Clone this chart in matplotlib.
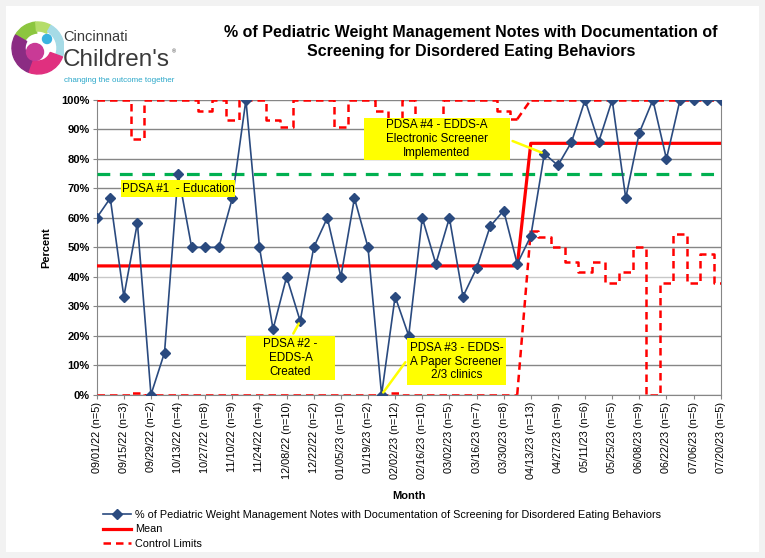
import numpy as np
from matplotlib import pyplot as plt
from matplotlib.patches import Rectangle, Wedge, Circle
from matplotlib.ticker import FuncFormatter

plt.rcParams['font.family'] = ['Liberation Sans', 'DejaVu Sans']

W, H = 765, 558

# weekly data, labels every other week
labels = ['09/01/22 (n=5)', '09/15/22 (n=3)', '09/29/22 (n=2)', '10/13/22 (n=4)',
          '10/27/22 (n=8)', '11/10/22 (n=9)', '11/24/22 (n=4)', '12/08/22 (n=10)',
          '12/22/22 (n=2)', '01/05/23 (n=10)', '01/19/23 (n=2)', '02/02/23 (n=12)',
          '02/16/23 (n=10)', '03/02/23 (n=5)', '03/16/23 (n=7)', '03/30/23 (n=8)',
          '04/13/23 (n=13)', '04/27/23 (n=9)', '05/11/23 (n=6)', '05/25/23 (n=5)',
          '06/08/23 (n=9)', '06/22/23 (n=5)', '07/06/23 (n=5)', '07/20/23 (n=5)']

pct = [60, 66.7, 33.3, 58.3, 0, 14.3, 75, 50, 50, 50, 66.7, 100, 50, 22.2, 40, 25,
       50, 60, 40, 66.7, 50, 0, 33.3, 20, 60, 44.4, 60, 33.3, 42.9, 57.1, 62.5, 44.4,
       53.8, 81.8, 77.8, 85.7, 100, 85.7, 100, 66.7, 88.9, 100, 80, 100, 100, 100, 100]

mean = [43.7] * 32 + [85.3] * 15

ucl = [100, 100, 100, 86.7, 100, 100, 100, 100, 96.3, 100, 93.3, 100, 100, 93.3, 90.8, 100,
       100, 100, 90.8, 100, 100, 96.3, 86.7, 100, 90.8, 90.8, 100, 100, 100, 100, 96.3, 93.5,
       100, 100, 100, 100, 100, 100, 100, 100, 100, 100, 100, 100, 100, 100, 100]

lcl = [0, 0, 0, 0.7, 0, 0, 0, 0, 0, 0, 0, 0, 0, 0, 0, 0,
       0, 0, 0, 0, 0, 0, 0.7, 0, 0, 0, 0, 0, 0, 0, 0, 0,
       55.7, 53.4, 50.0, 44.9, 41.7, 44.9, 37.8, 41.7, 50.0, 0, 37.8, 54.5, 37.8, 47.7, 37.8]

goal = 75
phase_break = 32

x = np.arange(len(pct))
ucl = np.array(ucl)
lcl = np.array(lcl)

fig = plt.figure(figsize=(W / 100, H / 100), dpi=100, facecolor='#f2f2f2')
fig.add_artist(Rectangle((6 / W, 6 / H), (W - 12) / W, (H - 12) / H, transform=fig.transFigure,
                         facecolor='white', edgecolor='none', zorder=-10))

ax = fig.add_axes([96.7 / W, 1 - 394.7 / H, 624 / W, 294.7 / H])
ax.set_facecolor('white')

# control limits: step per phase, diagonal at phase change
cl_style = dict(color='#ff0000', lw=1.8, dashes=(3, 2), zorder=3)
for lim in (ucl, lcl):
    ax.plot(x[:phase_break], lim[:phase_break], drawstyle='steps-mid', **cl_style)
    ax.plot(x[phase_break - 1:phase_break + 1], lim[phase_break - 1:phase_break + 1], **cl_style)
    ax.plot(x[phase_break:], lim[phase_break:], drawstyle='steps-mid', **cl_style)

ax.plot(x, mean, color='#ff0000', lw=2.3, zorder=4)
ax.axhline(goal, color='#00b050', lw=2.3, dashes=(4, 3), zorder=3)
ax.plot(x, pct, color='#2a4a7f', lw=1.2, marker='D', markersize=5, zorder=5)

ax.set_xlim(0, len(pct) - 1)
ax.set_ylim(0, 100)
ax.set_yticks(np.arange(0, 101, 10))
ax.yaxis.set_major_formatter(FuncFormatter(lambda v, p: f'{v:.0f}%'))
ax.set_xticks(x[::2])
ax.set_xticklabels(labels, rotation=90, fontsize=7.8)
ax.tick_params(axis='x', length=3, color='#868686', pad=2)
ax.tick_params(axis='y', length=3, color='#868686', labelsize=8, pad=2)
for t in ax.get_yticklabels():
    t.set_fontweight('bold')

ax.grid(axis='y', color='#868686', lw=1)
ax.get_ygridlines()[4].set_color('#c8c8c8')
ax.set_axisbelow(True)
for s in ['left', 'right', 'bottom']:
    ax.spines[s].set_color('#868686')
ax.spines['top'].set_visible(False)

ax.set_ylabel('Percent', fontsize=8, fontweight='bold', labelpad=7)
fig.text(408.7 / W, 1 - 496 / H, 'Month', fontsize=8, fontweight='bold', ha='center', va='center')

fig.text(471 / W, 1 - 42 / H,
         '% of Pediatric Weight Management Notes with Documentation of\nScreening for Disordered Eating Behaviors',
         fontsize=11.5, fontweight='bold', ha='center', va='center', linespacing=1.3)

# PDSA boxes
boxes = [((121, 180, 235, 197), 'PDSA #1  - Education', None),
         ((246, 336, 335, 380), 'PDSA #2 -\nEDDS-A\nCreated', ((292, 336), 15)),
         ((407, 338, 506, 385), 'PDSA #3 - EDDS-\nA Paper Screener\n2/3 clinics', ((407, 360), 21)),
         ((364, 118, 510, 160), 'PDSA #4 - EDDS-A\nElectronic Screener\nImplemented', ((510, 140), 33))]
for (x0, y0, x1, y1), txt, conn in boxes:
    fig.add_artist(Rectangle((x0 / W, 1 - y1 / H), (x1 - x0) / W, (y1 - y0) / H,
                             transform=fig.transFigure, facecolor='#ffff00', edgecolor='none', zorder=6))
    fig.text((x0 + x1) / 2 / W, 1 - (y0 + y1) / 2 / H, txt, fontsize=8.4, ha='center', va='center',
             linespacing=1.2, zorder=7)
    if conn:
        (px, py), idx = conn
        ax.annotate('', xy=(idx, pct[idx]), xycoords='data', xytext=(px / W, 1 - py / H),
                    textcoords='figure fraction', annotation_clip=False,
                    arrowprops=dict(arrowstyle='-', color='#ffff00', lw=1.8), zorder=6)

# legend
h1, = ax.plot([], [], color='#2a4a7f', lw=1.2, marker='D', markersize=5)
h2, = ax.plot([], [], color='#ff0000', lw=2.3)
h3, = ax.plot([], [], color='#ff0000', lw=1.8, dashes=(3, 2))
fig.legend([h1, h2, h3],
           ['% of Pediatric Weight Management Notes with Documentation of Screening for Disordered Eating Behaviors',
            'Mean', 'Control Limits'],
           loc='upper left', bbox_to_anchor=(103 / W, 1 - 510 / H), frameon=False, fontsize=7.85,
           handlelength=2.6, handletextpad=0.35, labelspacing=0.4, borderpad=0, borderaxespad=0)

# logo
lg = fig.add_axes([8 / W, 1 - 86 / H, 56 / W, 76 / H])
lg.set_xlim(0, 56)
lg.set_ylim(0, 76)
lg.set_aspect('equal')
lg.axis('off')
cx, cy, r = 30, 38, 26
lg.add_patch(Wedge((cx, cy), r, 95, 150, width=11, color='#8cc63f'))
lg.add_patch(Wedge((cx, cy), r, 60, 95, width=9, color='#b5dd6a'))
lg.add_patch(Wedge((cx, cy), r, -20, 60, width=7, color='#a6dbe6'))
lg.add_patch(Wedge((cx, cy), r, 150, 250, width=13, color='#8b2c83'))
lg.add_patch(Wedge((cx, cy), r, 250, 340, width=13, color='#e0307f'))
lg.add_patch(Circle((cx - 3, cy - 4), 8.5, color='#c93a96'))
lg.add_patch(Circle((cx + 9, cy + 9), 4.5, color='#3bb3e0'))

fig.text(63 / W, 1 - 37 / H, 'Cincinnati', fontsize=10.5, color='#3a3a3a', va='center')
fig.text(63 / W, 1 - 60 / H, "Children's", fontsize=17.5, color='#3a3a3a', va='center')
fig.text(172 / W, 1 - 52 / H, '®', fontsize=4, color='#3a3a3a', va='center')
fig.text(64 / W, 1 - 80 / H, 'changing the outcome together', fontsize=5.8, color='#2aa7c9', va='center')

plt.savefig('out.png', dpi=100, facecolor=fig.get_facecolor())
